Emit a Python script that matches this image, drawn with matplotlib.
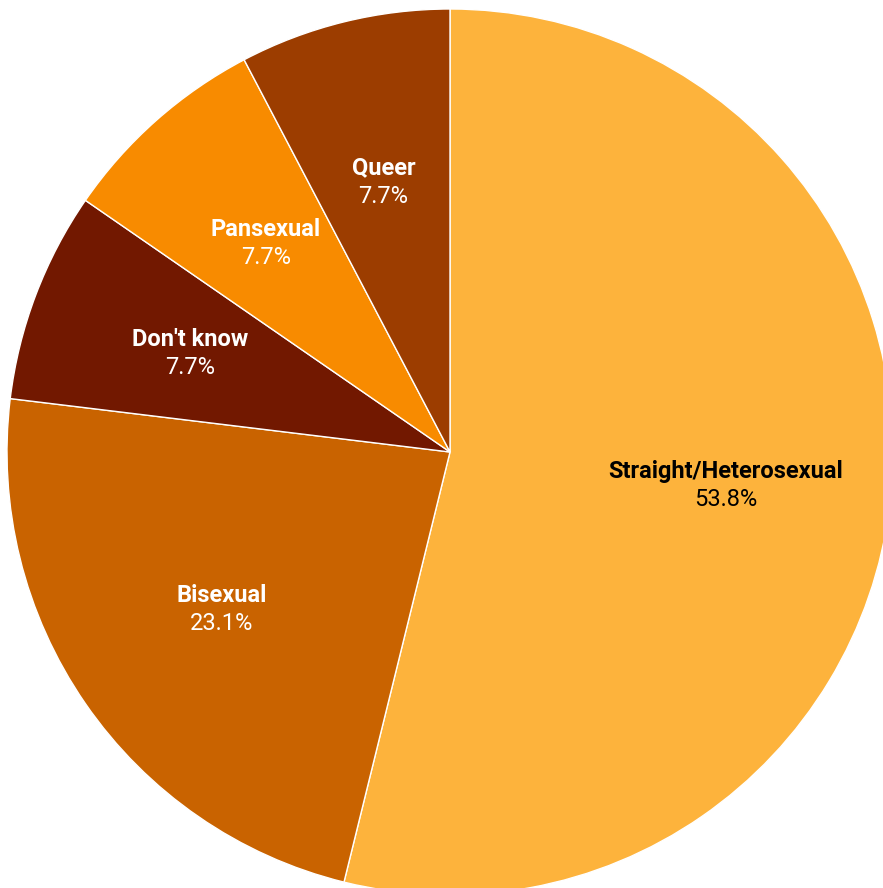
import numpy as np
import matplotlib.pyplot as plt

plt.rcParams['font.family'] = ['Roboto', 'DejaVu Sans']

labels = ['Straight/Heterosexual', 'Bisexual', "Don't know", 'Pansexual', 'Queer']
counts = [7, 3, 1, 1, 1]
colors = ['#FDB33C', '#C96300', '#721800', '#F88B00', '#9C3D00']
text_colors = ['black', 'white', 'white', 'white', 'white']

W, H = 883, 888
cx, cy, R = 450, 452, 443  # pie centre and radius in pixels

fig = plt.figure(figsize=(W / 100, H / 100), dpi=100)
ax = fig.add_axes([0, 0, 1, 1])
wedges, _ = ax.pie(counts, colors=colors, startangle=90, counterclock=False,
                   radius=1, wedgeprops=dict(edgecolor='white', linewidth=1))
ax.set_xlim(-cx / R, (W - cx) / R)
ax.set_ylim(-(H - cy) / R, cy / R)
ax.set_aspect('equal')
ax.axis('off')

total = sum(counts)
for w, lab, n, tc in zip(wedges, labels, counts, text_colors):
    mid = np.deg2rad((w.theta1 + w.theta2) / 2)
    x = 0.627 * np.cos(mid)
    y = 0.627 * np.sin(mid)
    ax.text(x, y + 0.032, lab, ha='center', va='center', fontsize=17,
            fontweight='bold', color=tc)
    ax.text(x, y - 0.031, f'{100 * n / total:.1f}%', ha='center', va='center',
            fontsize=17, color=tc)

fig.savefig('out.png', dpi=100)
